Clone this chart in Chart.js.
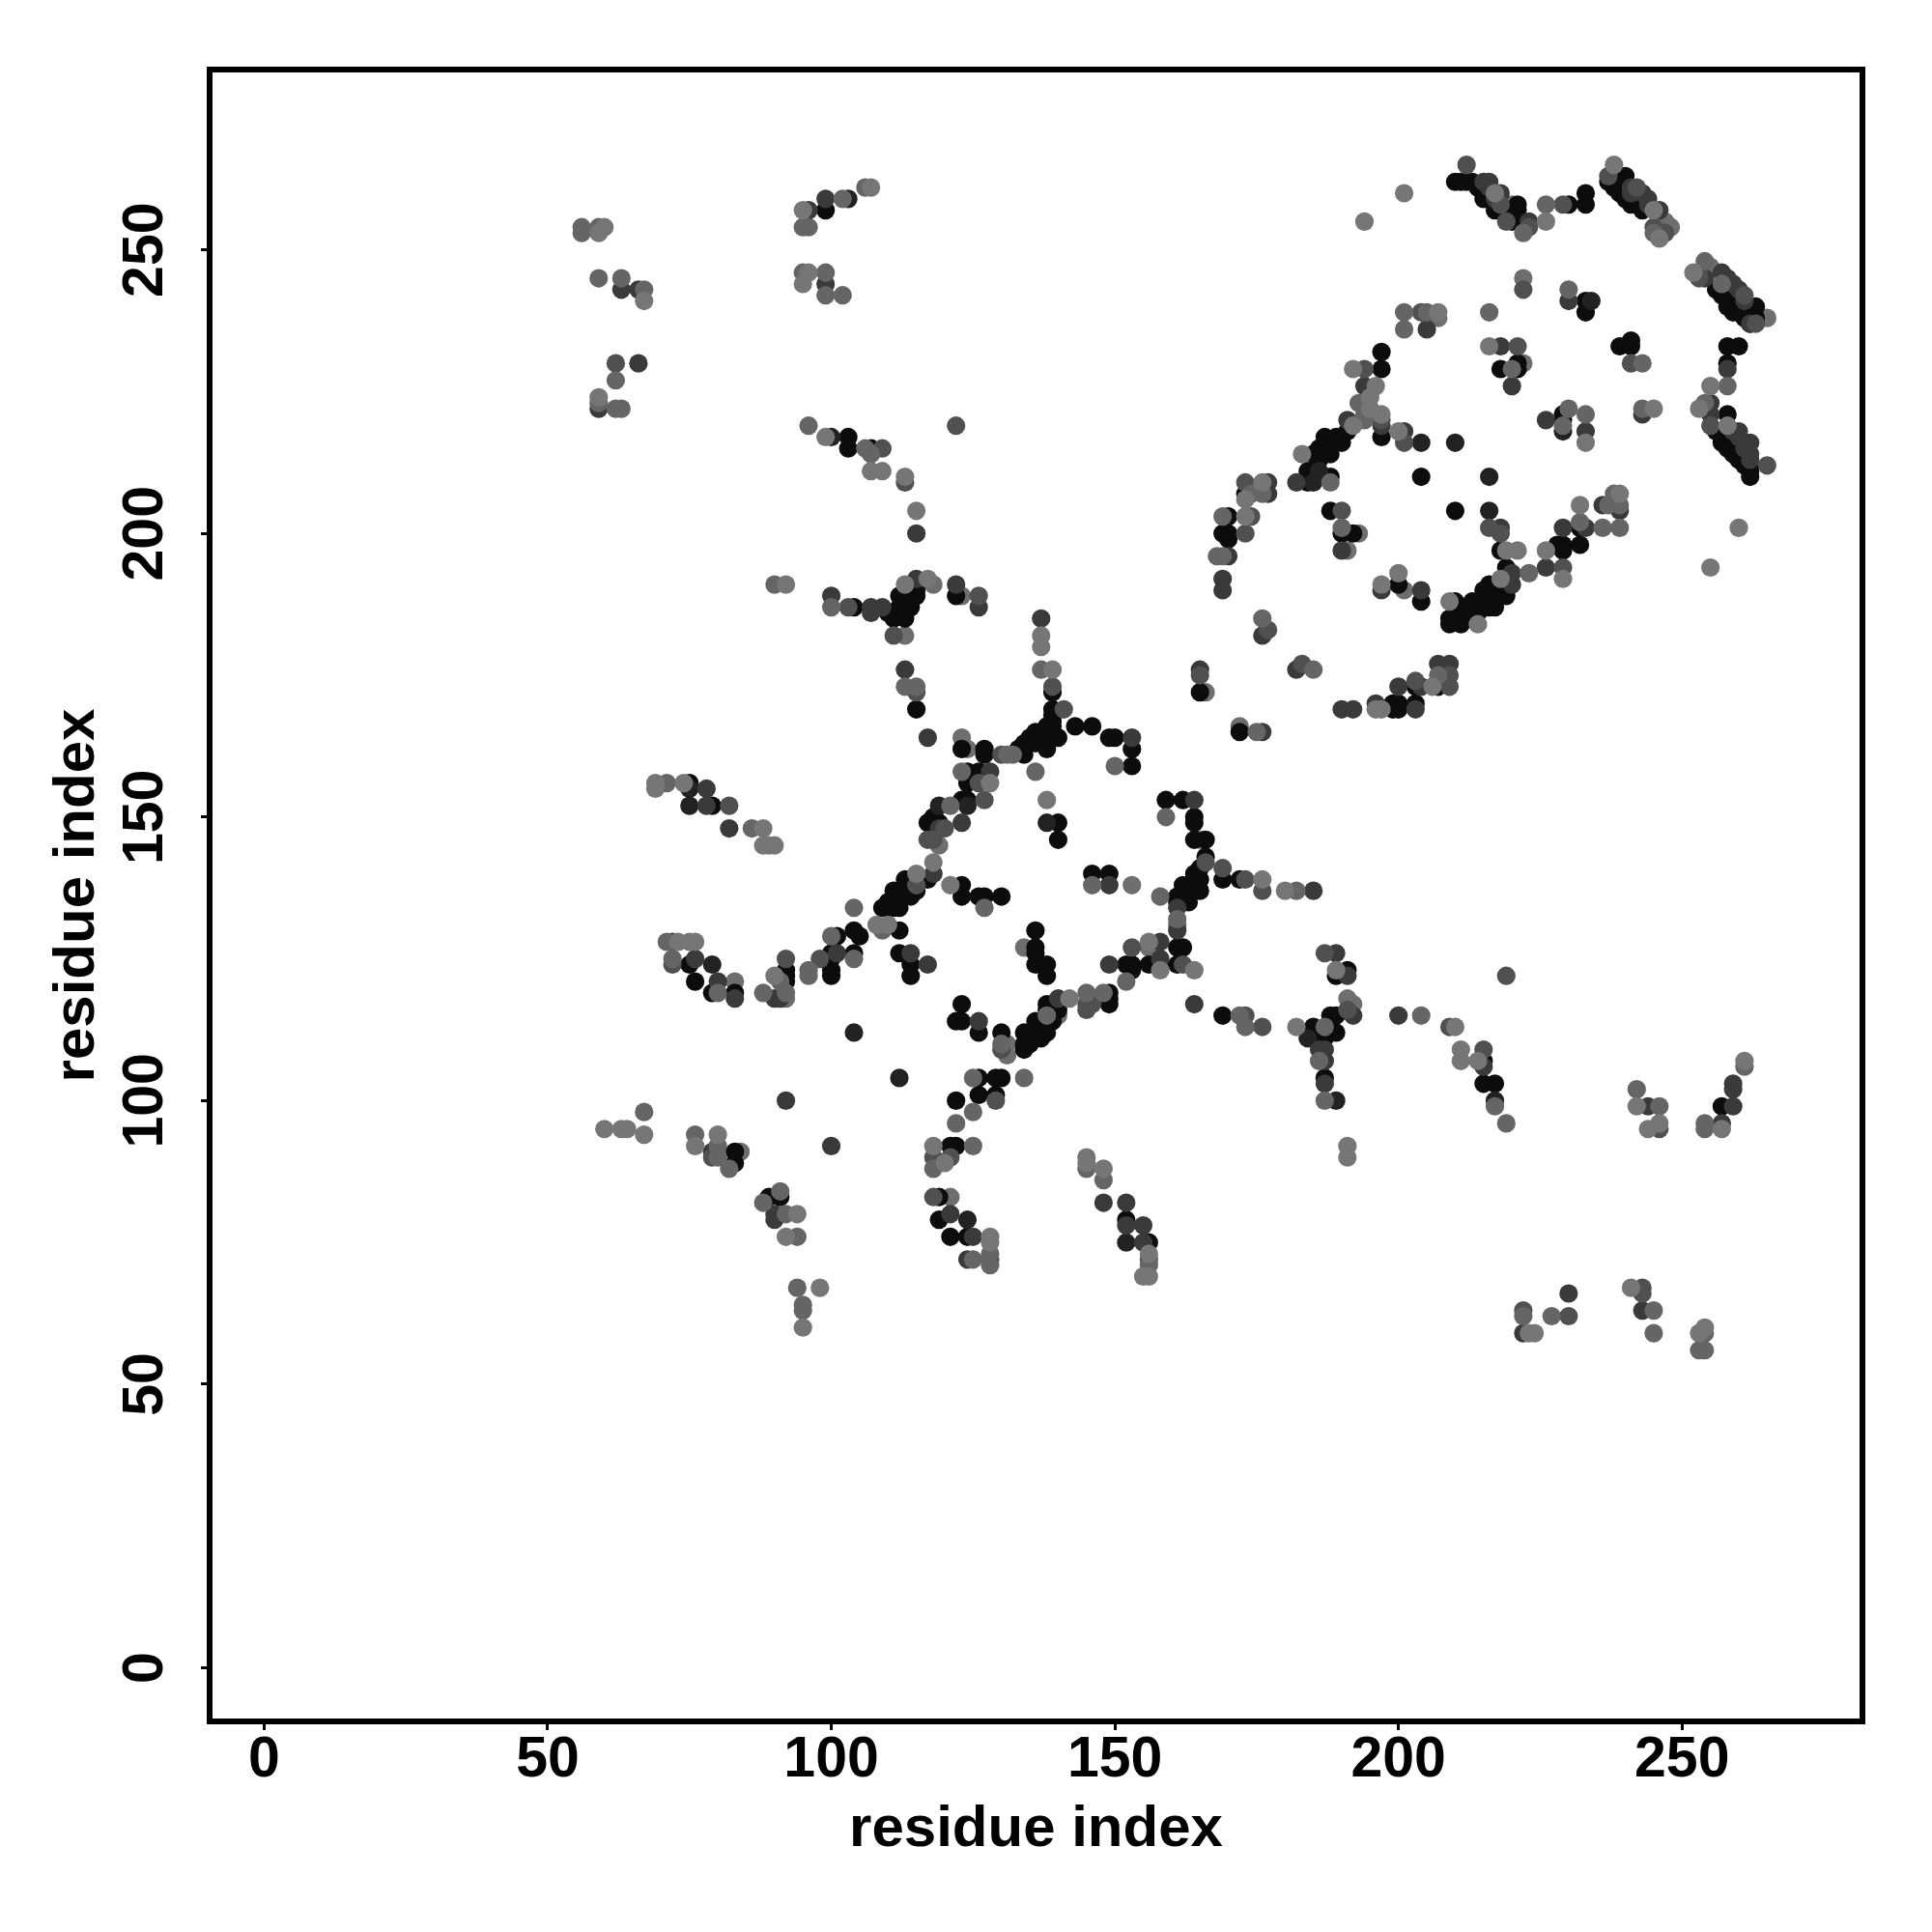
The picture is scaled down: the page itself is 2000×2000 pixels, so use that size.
<!DOCTYPE html>
<html>
<head>
<meta charset="utf-8">
<script src="https://cdn.jsdelivr.net/npm/chart.js@4/dist/chart.umd.min.js"></script>
<style>
html, body { margin: 0; padding: 0; background: #fff; }
canvas { display: block; }
</style>
</head>
<body>
<canvas id="chart1" width="2000" height="2000"></canvas>
<script>
// residue pairs in contact, split by how dark the dot is
const contactsLight = [[60,254],[59,253],[67,241],[59,224],[107,261],[95,257],[96,246],[95,244],[99,217],[107,211],[109,211],[113,210],[115,204],
  [194,255],[192,229],[183,214],[176,209],[173,206],[173,203],[201,260],[217,260],[226,255],[238,265],[245,257],[246,252],[252,246],[216,233],[255,226],[253,222],[258,219],[245,222],[200,218],[197,221],[233,216],[239,207],[232,205],[260,201],[219,197],[221,197],[226,197],[255,194],[229,192],[200,193],[197,191],[209,188],[218,192],[214,184],[206,173],[197,169],[207,239],
  [137,182],[137,180],[139,176],[176,139],[128,156],[138,153],[180,137],[196,169],[117,192],[113,191],[92,191],[118,142],[115,140],[121,138],[108,131],[110,131],[73,128],[75,128],[76,128],[69,156],[69,155],[74,156],[88,148],[88,145],[89,145],[90,145],
  [90,122],[118,92],[120,89],[60,95],[63,95],[64,95],[67,94],[76,92],[80,94],[94,80],[92,76],[98,67],[95,60],[142,118],[182,113],[156,128],[164,123],[189,123],[145,90],[145,89],[148,88],[155,69],[156,69],[128,76],[128,75],[156,73],[158,123],[191,92],[191,90],[211,109],[211,107],[214,107],[210,113],[242,99],[246,96],[244,95],[257,95],[261,107],[223,59],[224,59],[241,67],[254,60],[253,59],[195,224],[196,226],[195,222],[192,219]];
const contactsGrey = [[56,254],[56,253],[59,254],[59,245],[63,245],[67,243],[62,227],[59,223],[62,222],[63,222],[102,259],[106,261],[95,254],[96,254],[95,246],[99,246],[99,242],[102,242],[96,219],[106,215],[107,214],[193,223],[194,221],[194,220],[169,203],[168,196],[169,196],[176,207],[174,207],[188,209],[190,201],[226,258],[222,253],[245,253],[254,248],[257,244],[230,243],[201,239],[201,236],[205,239],[216,239],[220,229],[243,230],[258,226],[254,223],[243,222],[230,222],[233,221],[229,219],[238,207],[237,205],[239,205],[232,202],[236,201],[239,201],[223,193],[207,175],
  [137,176],[132,161],[131,161],[136,158],[150,159],[159,150],[146,138],[182,137],[127,134],[158,136],[161,132],[185,176],[176,185],[175,165],[100,187],[90,191],[121,152],[115,173],[113,173],[123,158],[104,134],[100,129],[109,130],[104,125],[96,123],[71,128],[72,125],[71,156],[86,148],[88,119],[92,119],[91,121],[96,122],[80,119],[67,98],[76,94],[80,92],[80,90],[82,88],[88,82],[91,84],[92,80],[94,76],[94,67],[95,64],[95,63],
  [122,96],[125,98],[125,92],[125,104],[125,72],[118,88],[130,110],[134,104],[145,119],[148,119],[152,121],[172,115],[173,113],[187,113],[186,107],[187,100],[145,88],[148,86],[156,71],[128,73],[128,71],[204,115],[217,99],[219,96],[242,102],[246,99],[254,96],[254,95],[261,106],[222,62],[227,62],[245,63],[245,59],[254,59],[253,56],[254,56],[138,115]];
const contactsMid = [[194,229],[173,209],[174,203],[190,204],[173,200],[212,265],[218,258],[219,255],[223,254],[229,258],[237,263],[242,261],[245,254],[247,253],[253,246],[253,245],[263,237],[261,242],[222,243],[204,239],[221,233],[241,230],[255,219],[201,216],[216,201],[218,200],[229,194],[209,175],[209,173],[203,174],
  [139,173],[141,169],[130,161],[126,156],[127,153],[166,142],[169,141],[173,139],[176,137],[153,127],[162,124],[187,126],[177,183],[165,175],[183,177],[103,187],[111,182],[126,189],[115,172],[117,146],[115,138],[98,125],[92,125],[72,124],[82,152],[118,90],[121,90],[118,83],[79,90],[62,230],[122,219],[109,215],[113,209],[118,146],[120,148],
  [145,117],[146,117],[145,116],[173,115],[176,113],[191,116],[130,109],[129,100],[156,72],[215,109],[209,113],[219,122],[246,95],[222,63],[230,62],[243,67],[243,66],[197,220],[265,212]];
const contactsDark = [[63,243],[66,243],[66,230],[59,222],[99,244],[96,257],[99,259],[115,200],[194,226],[182,209],[177,209],[177,207],[170,196],[190,197],[215,262],[216,262],[216,261],[217,259],[218,260],[223,255],[241,260],[241,261],[243,260],[244,258],[244,259],[246,257],[257,246],[258,245],[260,243],[261,241],[254,245],[259,244],[262,237],[230,241],[205,236],[218,233],[220,226],[258,229],[255,223],[255,221],[243,221],[226,220],[233,218],[201,218],[197,219],[218,201],[236,205],[239,204],[229,201],[233,201],[226,194],[204,190],[197,190],[220,191],[220,193],[204,173],[207,177],[209,177],[200,173],[203,169],[169,192],[169,190],[191,220],
  [137,185],[164,153],[128,158],[153,164],[149,138],[185,137],[161,134],[161,130],[158,128],[158,125],[149,124],[189,126],[176,182],[165,176],[182,176],[190,169],[192,169],[196,170],[176,165],[100,189],[107,187],[109,187],[107,186],[115,192],[122,191],[126,187],[113,176],[117,164],[119,148],[123,149],[118,140],[78,155],[82,148],[78,152],[101,126],[114,126],[117,124],[72,128],[76,125],[83,118],[90,118],[91,118],[80,121],[79,91],[90,79],[90,80],[121,80],[125,76],[124,72],
  [92,100],[100,92],[126,114],[140,118],[187,109],[186,109],[187,107],[187,103],[192,115],[191,122],[152,78],[155,78],[155,75],[148,82],[152,82],[128,72],[164,117],[200,115],[259,103],[259,102],[259,99],[257,96],[244,99],[215,106],[230,66],[243,63],[222,59],[262,216],[262,214],[260,218],[259,218],[260,217],[261,216],[261,215],[262,213]];
const contactsDarker = [[100,217],[103,259],[204,216],[210,216],[216,210],[216,204],[229,218],[234,241],[138,149],[75,155],[75,152],[119,152],[124,152],[79,124],[104,112],[112,104],[189,100],[184,111],[124,79],[152,75],[217,100],[186,211],[185,209]];
const contactsBlack = [[99,257],[103,217],[103,215],[107,215],[185,214],[187,217],[188,214],[187,215],[189,216],[190,217],[184,211],[184,209],[188,210],[197,229],[197,232],[170,203],[173,207],[169,200],[170,200],[170,199],[188,204],[190,200],[192,200],[210,262],[211,262],[212,262],[213,262],[214,261],[215,260],[215,259],[216,259],[217,257],[218,257],[221,258],[221,257],[219,256],[220,255],[221,255],[230,258],[233,260],[233,258],[237,262],[238,261],[239,263],[240,263],[238,262],[239,260],[240,259],[241,258],[242,258],[243,257],[256,243],[257,242],[258,241],[258,240],[259,239],[260,239],[261,238],[262,237],[263,240],[263,238],[233,241],[233,239],[218,229],[221,229],[221,230],[239,233],[241,234],[241,233],[258,233],[260,233],[258,230],[258,221],[256,218],[257,217],[257,216],[258,215],[259,215],[259,214],[260,213],[261,212],[262,212],[262,211],[262,210],[197,217],[204,210],[210,204],[229,221],[229,220],[232,201],[228,198],[229,198],[232,198],[229,197],[218,197],[200,191],[204,188],[210,188],[211,186],[210,186],[209,185],[209,184],[211,184],[211,185],[213,186],[213,188],[214,188],[214,186],[215,189],[215,190],[216,190],[216,188],[216,187],[216,191],[217,187],[217,189],[215,187],[218,189],[218,190],[218,191],[219,189],[219,194],[207,173],[203,173],[203,170],[199,170],[200,170],[200,169],[199,169],[186,213],[186,215],[188,216],[189,217],[190,216],[191,218],
  [139,172],[139,169],[139,168],[139,167],[143,166],[146,166],[139,166],[149,164],[150,164],[153,162],[153,159],[140,164],[137,165],[138,162],[136,163],[135,163],[134,161],[133,162],[134,163],[135,164],[136,165],[137,164],[138,165],[138,166],[127,162],[127,161],[126,158],[140,149],[140,146],[159,153],[162,153],[164,150],[164,149],[164,146],[166,146],[166,143],[169,139],[172,139],[164,140],[162,138],[165,137],[163,136],[161,136],[163,135],[161,135],[162,136],[163,137],[164,138],[164,139],[165,139],[165,141],[146,140],[149,140],[127,136],[130,136],[136,130],[136,127],[136,126],[136,124],[138,124],[162,127],[161,127],[152,124],[153,124],[156,124],[158,124],[161,124],[153,123],[191,123],[165,172],[172,165],[104,187],[110,186],[111,186],[112,186],[113,187],[114,187],[113,189],[114,190],[115,190],[115,191],[112,189],[115,189],[114,188],[112,187],[113,185],[111,185],[122,189],[123,162],[124,158],[124,156],[123,153],[124,153],[117,149],[119,149],[118,149],[118,150],[115,169],[117,139],[113,139],[114,136],[111,137],[112,136],[109,134],[111,134],[112,134],[110,135],[110,134],[111,135],[112,137],[113,138],[114,138],[115,137],[123,138],[123,136],[126,136],[112,130],[104,130],[105,129],[101,129],[100,126],[104,126],[100,125],[112,126],[114,124],[92,123],[100,123],[75,156],[75,124],[79,152],[76,121],[79,119],[83,119],[92,122],[92,121],[83,91],[83,89],[89,83],[91,83],[100,122],[114,122],[123,117],[122,114],[123,114],[126,112],[122,100],[126,101],[126,104],[121,92],[122,92],[119,83],[119,79],[121,76],[124,76],
  [138,122],[138,117],[138,116],[140,116],[139,117],[139,114],[137,114],[138,114],[137,113],[136,112],[135,111],[136,114],[138,112],[137,111],[135,112],[134,112],[134,109],[135,110],[136,111],[134,110],[130,112],[149,119],[149,118],[149,117],[169,115],[189,122],[188,115],[189,115],[189,112],[187,112],[185,113],[185,111],[187,111],[186,110],[187,104],[152,79],[156,75],[129,104],[130,104],[129,101],[215,107],[215,103],[217,103],[257,99]];
// lighter dots that sit on top of the black runs
const contactsTop = [[83,121],[84,91],[92,118],[121,83],[191,118],[192,117],[140,115],[113,182],[118,191],[123,189],[123,164],[124,162],[119,145],[166,172],[201,190],[222,230],[207,238],[193,200],[191,197],[265,238],[220,258],[247,255],[248,254],[255,247],[222,245],[172,166],[153,138],[161,131],[156,127],[134,127],[165,146],[131,110],[131,108]];
const shadeColors = ['#767676', '#656565', '#505050', '#3a3a3a', '#222222', '#0c0c0c', '#6e6e6e'];
const tickValues = [0, 50, 100, 150, 200, 250];
const xRange = [-9.6, 281.8];
const yRange = [-9.45, 281.8];

const allContacts = [contactsLight, contactsGrey, contactsMid, contactsDark, contactsDarker, contactsBlack, contactsTop];

function axisOptions(range, fitter) {
  return {
    type: 'linear',
    min: range[0],
    max: range[1],
    afterBuildTicks: axis => { axis.ticks = tickValues.map(v => ({ value: v })); },
    afterFit: fitter,
    border: { display: false },
    grid: { drawOnChartArea: false, drawTicks: true, tickLength: 9, tickWidth: 3, tickColor: '#000' }
  };
}

const xAxis = axisOptions(xRange, s => { s.height = 218; });
xAxis.ticks = { color: '#000', padding: -4, maxRotation: 0, autoSkip: false, font: { family: 'Liberation Sans', weight: 'bold', size: 59 } };
xAxis.title = { display: true, text: 'residue index', color: '#000', font: { family: 'Liberation Sans', weight: 'bold', size: 60 }, padding: { top: 0, bottom: 70 } };

const yAxis = axisOptions(yRange, s => { s.width = 217; });
yAxis.ticks = { color: '#000', padding: 7, minRotation: 90, maxRotation: 90, crossAlign: 'center', autoSkip: false, font: { family: 'Liberation Sans', weight: 'bold', size: 59 } };
yAxis.title = { display: true, text: 'residue index', color: '#000', font: { family: 'Liberation Sans', weight: 'bold', size: 60 }, padding: { top: 44, bottom: 0 } };

new Chart('chart1', {
  type: 'scatter',
  data: {
    datasets: allContacts.map((pairs, i) => ({
      data: pairs.map(p => ({ x: p[0], y: p[1] })),
      backgroundColor: shadeColors[i],
      borderWidth: 0,
      pointRadius: 9.6,
      pointHoverRadius: 9.6
    }))
  },
  options: {
    responsive: false,
    animation: false,
    layout: { padding: { left: 0, top: 72, right: 72, bottom: 0 } },
    plugins: { legend: { display: false }, tooltip: { enabled: false } },
    scales: { x: xAxis, y: yAxis }
  },
  plugins: [{
    id: 'box',
    afterDraw(chart) {
      const a = chart.chartArea, c = chart.ctx;
      c.save();
      c.strokeStyle = '#000';
      c.lineWidth = 6;
      c.strokeRect(a.left, a.top, a.right - a.left, a.bottom - a.top);
      c.restore();
    }
  }]
});
</script>
</body>
</html>
